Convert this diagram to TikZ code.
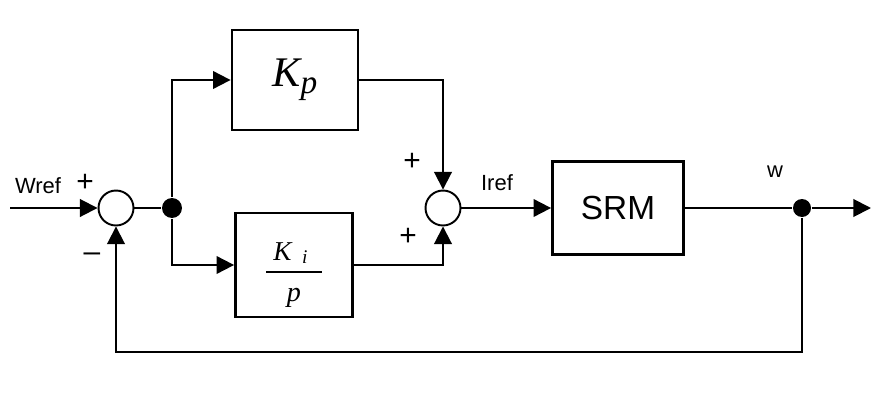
\documentclass[tikz,border=0pt]{standalone}
\usepackage{amsmath}
\usepackage{fontspec}
\setmainfont{Liberation Sans}
\newfontfamily\tmsfont{Liberation Serif}
\usepackage{tikz}
\usetikzlibrary{arrows.meta, positioning}

\begin{document}
\begin{tikzpicture}[
    x=0.02cm, y=-0.02cm,
    block/.style={rectangle, draw, line width=1.6pt, inner sep=0pt},
    sum/.style={circle, draw, line width=1.1pt, minimum size=0.7cm, inner sep=0pt},
    dot/.style={circle, fill, minimum size=0.4cm, inner sep=0pt},
    lbl/.style={font=\fontsize{12.5}{15}\selectfont, inner sep=0pt},
    sign/.style={font=\fontsize{17}{20}\selectfont, inner sep=0pt},
    line width=1.1pt,
    >={Triangle[length=10pt,width=10pt]}
]
\useasboundingbox (0,0) rectangle (872,409);

\node[sum] (sum1) at (116,208) {};
\node[dot] (jn) at (172,208) {};
\node[block, minimum width=2.52cm, minimum height=2.0cm] (kp) at (295,80)
    {\tmsfont\itshape\fontsize{24}{28}\selectfont K\raisebox{-4pt}{\fontsize{19}{22}\selectfont p}};
\node[block, minimum width=2.34cm, minimum height=2.08cm] (ki) at (294,265)
    {\tmsfont\itshape\raisebox{-6.5pt}[0pt][0pt]{$\genfrac{}{}{1pt}{0}%
    {\text{\rule[-3.3pt]{0pt}{1pt}\hspace{4pt}\fontsize{15.5}{18}\selectfont K\hspace{6pt}\raisebox{-2pt}{\fontsize{11}{13}\selectfont i}\hspace{8pt}}}%
    {\text{\rule{0pt}{13.5pt}\fontsize{16}{19}\selectfont p}}$}};
\node[sum] (sum2) at (443,208) {};
\node[block, minimum width=2.62cm, minimum height=1.86cm, font=\fontsize{19}{22}\selectfont] (srm) at (618,208) {SRM};
\node[dot, minimum size=0.36cm] (wdot) at (802,208) {};
\coordinate (in) at (10,208);
\coordinate (out) at (871,208);
\coordinate (fb) at (116,352);

% forward path
\draw[->] (in) -- (sum1);
\draw (sum1) -- (jn);
\draw[->] (jn) |- (kp);
\draw[->] (jn) |- (ki);
\draw[->] (kp) -| (sum2);
\draw[->] (ki) -| (sum2);
\draw[->] (sum2) -- (srm);
\draw (srm) -- (wdot);
\draw[->] (wdot) -- (out);
% feedback
\draw[->] (wdot) |- (fb) -- (sum1);

\node[lbl] (wref) at (38,186) {Wref};
\node[sign] (p1) at (85,183) {+};
\node[sign] (m1) at (92,257) {\textendash};
\node[sign] (p2) at (412,162) {+};
\node[sign] (p3) at (408,237) {+};
\node[lbl] (iref) at (497,183) {Iref};
\node[lbl] (w) at (775,172) {w};
\end{tikzpicture}
\end{document}
